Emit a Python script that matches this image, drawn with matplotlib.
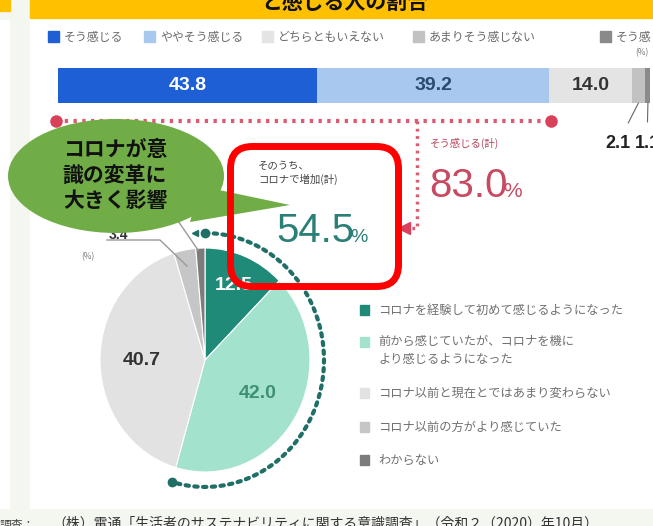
import numpy as np
import matplotlib
matplotlib.use("Agg")
import matplotlib.pyplot as plt
from matplotlib.patches import Rectangle, Ellipse, Polygon, FancyBboxPatch

NUM = ['Liberation Sans', 'DejaVu Sans']
plt.rcParams['font.family'] = ['Noto Sans CJK JP', 'DejaVu Sans']

# data
bar_labels = ['そう感じる', 'ややそう感じる', 'どちらともいえない', 'あまりそう感じない', 'そう感じない']
bar_values = [43.8, 39.2, 14.0, 2.1, 1.1]
bar_colors = ['#1f5fd6', '#a9c8ef', '#e4e4e4', '#c2c2c2', '#8a8a8a']
bar_text_colors = ['white', '#2b4c6e', '#333333']

pie_labels = ['コロナを経験して初めて感じるようになった',
              '前から感じていたが、コロナを機に\nより感じるようになった',
              'コロナ以前と現在とではあまり変わらない',
              'コロナ以前の方がより感じていた',
              'わからない']
pie_values = [12.5, 42.0, 40.7, 3.4, 1.4]
pie_colors = ['#1f8a78', '#a3e2cc', '#e2e2e2', '#c6c6c6', '#7c7c7c']
pie_text_colors = ['white', '#3f8f75', '#333333']

feel_total = 83.0
corona_total = 54.5

W, H = 653, 526
fig = plt.figure(figsize=(W / 100, H / 100), dpi=100, facecolor='#f4f6f0')

def px_axes(zorder):
    a = fig.add_axes([0, 0, 1, 1], zorder=zorder)
    a.set_xlim(0, W)
    a.set_ylim(H, 0)
    a.axis('off')
    a.patch.set_alpha(0)
    return a

# background
bg = px_axes(0)
bg.add_patch(Rectangle((0, 20), 9, 488, color='white'))
bg.add_patch(Rectangle((0, 0), 10, 11, color='#ffc000'))
bg.add_patch(Rectangle((30, 18), W - 30, 490, color='white'))
bg.add_patch(Rectangle((30, 0), W - 30, 18, color='#ffc000'))
bg.text(345, 3, 'と感じる人の割合', ha='center', va='center', fontsize=15,
        fontweight='bold', color='#111111')

# top legend
leg_x = [48, 144, 262, 413, 600]
for x, lab, c in zip(leg_x, bar_labels, bar_colors):
    bg.add_patch(Rectangle((x, 31), 11, 11, color=c))
    bg.text(x + 16, 37, lab, ha='left', va='center', fontsize=8.6, color='#6a6a6a')
bg.text(642, 53, '(%)', ha='center', va='center', fontsize=6, color='#777777')

# stacked bar
x0, x1 = 58, 650
axb = fig.add_axes([x0 / W, 1 - 103 / H, (x1 - x0) / W, 35 / H], zorder=1)
lefts = np.concatenate([[0], np.cumsum(bar_values)[:-1]])
axb.barh(0, bar_values, left=lefts, height=1, color=bar_colors, linewidth=0)
axb.set_xlim(0, 100)
axb.set_ylim(-0.5, 0.5)
axb.axis('off')
for i in range(3):
    axb.text(lefts[i] + bar_values[i] / 2, 0, f'{bar_values[i]:.1f}', ha='center',
             va='center', fontsize=14, fontweight='bold', family=NUM,
             color=bar_text_colors[i])
for i, lx in zip([3, 4], [618, 647]):
    axb.annotate(f'{bar_values[i]:.1f}', xy=(lefts[i] + bar_values[i] / 2, -0.5),
                 xycoords='data', xytext=(lx, H - 143), textcoords='figure pixels',
                 ha='center', va='center', fontsize=13, fontweight='bold', family=NUM,
                 color='#222222', annotation_clip=False,
                 arrowprops=dict(arrowstyle='-', color='#666666', lw=0.8,
                                 shrinkA=7, shrinkB=0))

# pie
cx, cy, rx, ry = 205, 360, 105, 112
bw = 280
bh = bw * ry / rx
axp = fig.add_axes([(cx - bw / 2) / W, 1 - (cy + bh / 2) / H, bw / W, bh / H], zorder=1)
axp.pie(pie_values, colors=pie_colors, startangle=90, counterclock=False, radius=1.05,
        wedgeprops=dict(edgecolor='white', linewidth=0.8))
axp.set_aspect('auto')
axp.set_xlim(-1.4, 1.4)
axp.set_ylim(-1.4, 1.4)
axp.axis('off')
cum = np.cumsum([0] + pie_values)
dists = [0.72, 0.58, 0.6]
for i in range(3):
    mid = (cum[i] + cum[i + 1]) / 2 / 100 * 2 * np.pi
    axp.text(dists[i] * 1.05 * np.sin(mid), dists[i] * 1.05 * np.cos(mid),
             f'{pie_values[i]:.1f}', ha='center', va='center', fontsize=14,
             fontweight='bold', family=NUM, color=pie_text_colors[i])
# dotted arc = share that grew with corona
t = np.linspace(0, corona_total / 100 * 2 * np.pi, 200)
ar = 1.19
axp.plot(ar * np.sin(t), ar * np.cos(t), color='#1f6f66', lw=3,
         linestyle=(0, (0.8, 1.3)), dash_capstyle='round', clip_on=False)
axp.plot([ar * np.sin(t[0]), ar * np.sin(t[-1])], [ar * np.cos(t[0]), ar * np.cos(t[-1])],
         'o', color='#1f6f66', ms=6, clip_on=False)
axp.plot([ar * np.sin(t[0]) - 0.1], [ar * np.cos(t[0])], '<', color='#1f6f66', ms=5,
         clip_on=False)

# overlay
ov = px_axes(3)
# small slice labels (mostly hidden under the bubble)
ov.plot([107, 160, 187], [240, 240, 266], color='#999999', lw=1, zorder=2)
ov.plot([176, 198], [218, 250], color='#999999', lw=1, zorder=2)
ov.text(118, 235, f'{pie_values[3]:.1f}', ha='center', va='center', fontsize=10,
        fontweight='bold', family=NUM, color='#333333', zorder=2)
ov.text(166, 221, f'{pie_values[4]:.1f}', ha='center', va='center', fontsize=9,
        fontweight='bold', family=NUM, color='#333333', zorder=2)
ov.text(88, 257, '(%)', ha='center', va='center', fontsize=6, color='#777777')

# red dotted bracket
red = '#dd5b72'
ov.plot([56, 551], [121, 121], color=red, lw=3, linestyle=(0, (0.8, 1.3)))
ov.plot([56, 551], [121, 121], 'o', color='#d9405a', ms=8)
ov.plot([417, 417, 410], [121, 228, 228], color=red, lw=2.5, linestyle=(0, (0.8, 1.3)))
ov.plot([404], [228], '<', color='#d9405a', ms=9)
ov.text(430, 143, 'そう感じる(計)', ha='left', va='center', fontsize=7.5, color='#b8455c')
ov.text(429, 197, f'{feel_total:.1f}', ha='left', va='baseline', fontsize=29,
        family=NUM, color='#c84a62')
ov.text(503, 197, '%', ha='left', va='baseline', fontsize=15, family=NUM, color='#c84a62')

# legend for pie
leg_y = [310, 342, 393, 427, 460]
for y, lab, c in zip(leg_y, pie_labels, pie_colors):
    ov.add_patch(Rectangle((360, y - 5), 9, 10, color=c))
    if '\n' in lab:
        ov.text(378, y - 7, lab, ha='left', va='top', fontsize=8.8, color='#707070',
                linespacing=1.45)
    else:
        ov.text(378, y, lab, ha='left', va='center', fontsize=8.8, color='#707070')

# green speech bubble
green = '#70ad47'
ov.add_patch(Polygon([(200, 186), (290, 205), (190, 222)], closed=True, color=green,
                     lw=0, zorder=5))
ov.add_patch(Ellipse((116, 176), 216, 114, color=green, lw=0, zorder=5))
ov.text(115, 175, 'コロナが意\n識の変革に\n大きく影響', ha='center', va='center',
        fontsize=15, fontweight='bold', color='#111111', linespacing=1.25, zorder=6)

# red box
ov.add_patch(FancyBboxPatch((230.5, 146.5), 168, 140,
                            boxstyle='round,pad=0,rounding_size=22',
                            fill=False, edgecolor='#ff0000', lw=5, zorder=7))
ov.text(258, 173, 'そのうち、\nコロナで増加(計)', ha='left', va='center', fontsize=7.5,
        color='#444444', linespacing=1.4, zorder=6)
ov.text(276, 242, f'{corona_total:.1f}', ha='left', va='baseline', fontsize=29,
        family=NUM, color='#2a7f76', zorder=6)
ov.text(350, 242, '%', ha='left', va='baseline', fontsize=14, family=NUM,
        color='#2a7f76', zorder=6)

# source line at bottom
ov.text(0, 525, '調査：', ha='left', va='center', fontsize=8.5, color='#444444')
ov.text(52, 524, '（株）電通「生活者のサステナビリティに関する意識調査」（令和２（2020）年10月）',
        ha='left', va='center', fontsize=10, color='#333333')

fig.savefig('out.png', dpi=100, facecolor=fig.get_facecolor())
